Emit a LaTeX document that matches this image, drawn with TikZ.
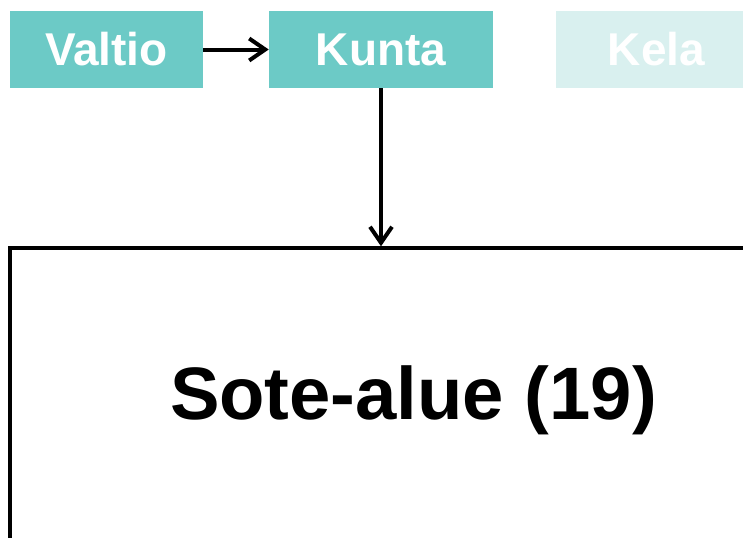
\documentclass[tikz,border=0pt]{standalone}
\usepackage{fontspec}
\setmainfont{Liberation Sans}
\usetikzlibrary{arrows.meta}
\definecolor{teal}{HTML}{6CCAC6}
\definecolor{paleteal}{HTML}{D9F0EF}
\tikzset{
  org/.style={fill=teal, text=white, inner sep=0pt, minimum height=57.75pt,
    font=\fontsize{34.5}{40}\selectfont\bfseries},
  link/.style={line width=3pt, -{Straight Barb[length=12pt,width=16.5pt,line width=3pt]}},
}
\begin{document}
\begin{tikzpicture}[x=0.75pt, y=-0.75pt]
  \useasboundingbox (0,0) rectangle (743,537);
  \clip (0,0) rectangle (743,537);
  % actors
  \node[org, minimum width=144.75pt] (valtio) at (106.5,49.5) {Valtio};
  \node[org, minimum width=168pt] (kunta) at (381,49.5) {Kunta};
  \node[org, fill=paleteal, minimum width=150.75pt] (kela) at (656.5,49.5) {Kela};
  % region box, continuing past the page
  \node[draw, line width=3pt, inner sep=0pt, minimum width=605.25pt,
    minimum height=300pt, anchor=north west] (sote) at (8.2,246.3) {};
  \node[font=\fontsize{55.7}{64}\selectfont\bfseries] (sotelabel) at (413.5,400) {Sote-alue (19)};
  % connectors
  \draw[link] (valtio.east) -- (kunta.west);
  \draw[link] (kunta.south) -- (kunta.south |- sote.north);
\end{tikzpicture}
\end{document}
